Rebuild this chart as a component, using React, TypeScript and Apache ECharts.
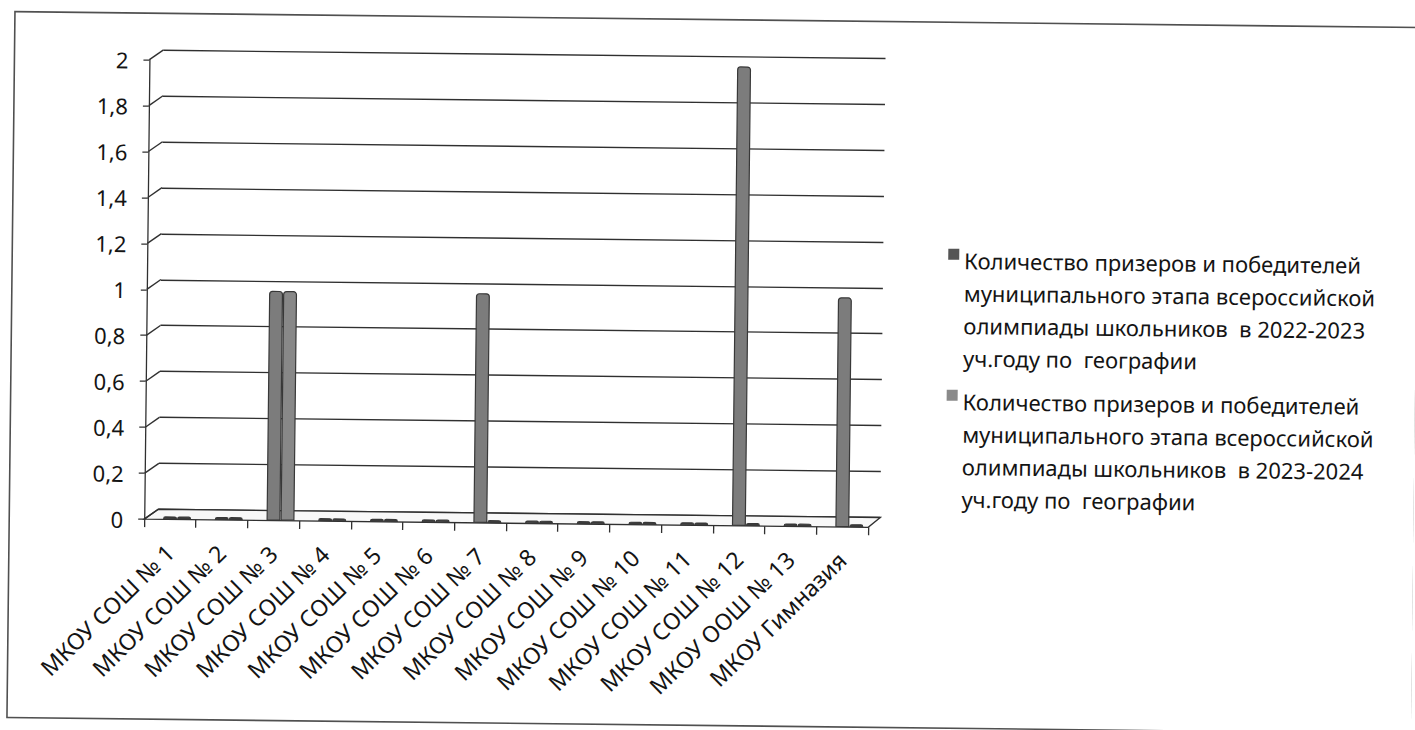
import React, { useEffect, useRef } from "react";
import * as echarts from "echarts";

const categories = [
  "МКОУ СОШ № 1",
  "МКОУ СОШ № 2",
  "МКОУ СОШ № 3",
  "МКОУ СОШ № 4",
  "МКОУ СОШ № 5",
  "МКОУ СОШ № 6",
  "МКОУ СОШ № 7",
  "МКОУ СОШ № 8",
  "МКОУ СОШ № 9",
  "МКОУ СОШ № 10",
  "МКОУ СОШ № 11",
  "МКОУ СОШ № 12",
  "МКОУ ООШ № 13",
  "МКОУ Гимназия",
];

const values2022 = [0, 0, 1, 0, 0, 0, 1, 0, 0, 0, 0, 2, 0, 1];
const values2023 = [0, 0, 1, 0, 0, 0, 0, 0, 0, 0, 0, 0, 0, 0];

const seriesNames = [
  "Количество призеров и победителей\nмуниципального этапа всероссийской\nолимпиады школьников  в 2022-2023\nуч.году по  географии",
  "Количество призеров и победителей\nмуниципального этапа всероссийской\nолимпиады школьников  в 2023-2024\nуч.году по  географии",
];

const yTicks = [0, 0.2, 0.4, 0.6, 0.8, 1, 1.2, 1.4, 1.6, 1.8, 2];

const FONT = "'Noto Sans', 'Open Sans', sans-serif";
const TEXT = "#141414";
const LINE = "#303030";

// layout (unrotated page coordinates)
const W = 1415;
const H = 730;
const FRONT_L = 146;
const FRONT_R = 870;
const FRONT_T = 66;
const FRONT_B = 525.5;
const DX = 14;
const DY = -10;
const BACK_R = 882;
const BAR_SHIFT = 7;

export default function App() {
  const ref = useRef<HTMLDivElement>(null);

  useEffect(() => {
    if (!ref.current) return;
    const chart = echarts.init(ref.current, null, { renderer: "svg" });

    const fmt = (v: number) => String(Math.round(v * 10) / 10).replace(".", ",");
    const toData = (arr: number[]) =>
      arr.map((v) => (v === 0 ? { value: v, itemStyle: { color: "#3c3c3c" } } : v));

    chart.setOption({
      animation: false,
      backgroundColor: "#ffffff",
      textStyle: { fontFamily: FONT },
      grid: [
        { left: FRONT_L, right: W - FRONT_R, top: FRONT_T, bottom: H - FRONT_B },
        { left: FRONT_L + DX, right: W - BACK_R, top: FRONT_T + DY, bottom: H - FRONT_B - DY },
        { left: FRONT_L + BAR_SHIFT, right: W - FRONT_R - BAR_SHIFT, top: FRONT_T, bottom: H - FRONT_B },
      ],
      xAxis: [
        {
          type: "category",
          gridIndex: 0,
          data: categories,
          axisLine: { show: false },
          axisTick: { show: true, length: 8, interval: 0, lineStyle: { color: LINE, width: 1.3 } },
          axisLabel: {
            interval: 0,
            rotate: 45,
            margin: 29,
            fontSize: 23,
            color: TEXT,
            fontFamily: FONT,
          },
          splitLine: { show: false },
        },
        { type: "category", gridIndex: 1, data: categories, show: false },
        { type: "category", gridIndex: 2, data: categories, show: false },
      ],
      yAxis: [
        {
          type: "value",
          gridIndex: 0,
          min: 0,
          max: 2,
          interval: 0.2,
          axisLine: { show: true, lineStyle: { color: LINE, width: 1.3 } },
          axisTick: { show: true, length: 6, lineStyle: { color: LINE, width: 1.3 } },
          axisLabel: { margin: 21, fontSize: 22, color: TEXT, fontFamily: FONT, formatter: fmt },
          splitLine: { show: false },
        },
        {
          type: "value",
          gridIndex: 1,
          min: 0,
          max: 2,
          interval: 0.2,
          axisLine: { show: false },
          axisTick: { show: false },
          axisLabel: { show: false },
          splitLine: { show: true, lineStyle: { color: LINE, width: 1.4 } },
        },
        { type: "value", gridIndex: 2, min: 0, max: 2, interval: 0.2, show: false },
      ],
      legend: {
        orient: "vertical",
        left: 947,
        top: 241,
        padding: 0,
        itemWidth: 11,
        itemHeight: 130,
        itemGap: 11,
        itemTextGap: 3,
        selectedMode: false,
        icon: "path://M0,5L11,5L11,16L0,16Z M0,0L0.01,0L0.01,0.01Z M0,130L0.01,130L0.01,130.01Z",
        itemStyle: { borderWidth: 0 },
        textStyle: { fontSize: 22, lineHeight: 32.5, color: TEXT, fontFamily: FONT },
        data: [
          { name: seriesNames[0], itemStyle: { color: "#555555" } },
          { name: seriesNames[1], itemStyle: { color: "#8a8a8a" } },
        ],
      },
      series: [
        {
          name: seriesNames[0],
          type: "bar",
          xAxisIndex: 2,
          yAxisIndex: 2,
          data: toData(values2022),
          barWidth: 14,
          barGap: "0%",
          barMinHeight: 3,
          itemStyle: { color: "#7c7c7c", borderColor: "#383838", borderWidth: 1.2, borderRadius: [3, 3, 0, 0] },
        },
        {
          name: seriesNames[1],
          type: "bar",
          xAxisIndex: 2,
          yAxisIndex: 2,
          data: toData(values2023),
          barWidth: 14,
          barGap: "0%",
          barMinHeight: 3,
          itemStyle: { color: "#888888", borderColor: "#383838", borderWidth: 1.2, borderRadius: [3, 3, 0, 0] },
        },
      ],
    });

    // 3D-style decorations derived from the axes' own scales
    const yFront = (v: number) => chart.convertToPixel({ yAxisIndex: 0 }, v) as number;
    const yBack = (v: number) => chart.convertToPixel({ yAxisIndex: 1 }, v) as number;

    const diagonals = yTicks.map((v) => ({
      type: "line",
      z: 0,
      silent: true,
      shape: { x1: FRONT_L, y1: yFront(v), x2: FRONT_L + DX, y2: yBack(v) },
      style: { stroke: LINE, lineWidth: 1.4 },
    }));

    const y0f = yFront(0);
    const y0b = yBack(0);

    chart.setOption({
      graphic: [
        {
          type: "rect",
          z: 0,
          silent: true,
          shape: { x: 11, y: 19.5, width: 1405, height: 706 },
          style: { fill: "none", stroke: "#505050", lineWidth: 1.6 },
        },
        {
          type: "polygon",
          z: 0,
          silent: true,
          shape: {
            points: [
              [FRONT_L, y0f],
              [FRONT_R, y0f],
              [BACK_R, y0b],
              [FRONT_L + DX, y0b],
            ],
          },
          style: { fill: "#f8f8f8", stroke: LINE, lineWidth: 1.4 },
        },
        ...diagonals,
      ],
    });

    return () => chart.dispose();
  }, []);

  return (
    <div
      ref={ref}
      style={{
        position: "absolute",
        left: 0,
        top: 0,
        width: W,
        height: H,
        transform: "rotate(0.65deg)",
        transformOrigin: "50% 50%",
      }}
    />
  );
}
